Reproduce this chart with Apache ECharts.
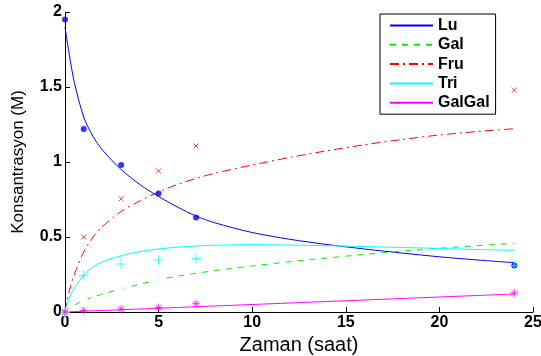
<!DOCTYPE html>
<html>
<head>
<meta charset="utf-8">
<script src="https://cdn.jsdelivr.net/npm/echarts@6/dist/echarts.min.js"></script>
<style>
html,body{margin:0;padding:0;background:#fff;}
#chart{width:541px;height:356px;}
</style>
</head>
<body>
<div id="chart"></div>
<script>
// olculen noktalar
var tObs = [0, 1, 3, 5, 7, 24];
var luObs = [1.95, 1.22, 0.98, 0.79, 0.63, 0.31];
var galObs = [0, 0.08, 0.145, 0.225, 0.305, 0.54];
var fruObs = [0, 0.50, 0.755, 0.94, 1.107, 1.48];
var triObs = [0, 0.242, 0.32, 0.347, 0.358, 0.31];
var galgalObs = [0, 0.01, 0.02, 0.03, 0.055, 0.127];

// model egrileri
var tFit = [0, 0.25, 0.5, 1, 1.5, 2, 3, 4, 5, 6, 7, 8, 10, 12, 14, 16, 18, 20, 22, 24];
var luFit = [1.90, 1.70, 1.53, 1.30, 1.17, 1.08, 0.95, 0.85, 0.77, 0.70, 0.64, 0.595, 0.53, 0.485, 0.45, 0.42, 0.393, 0.368, 0.347, 0.329];
var galFit = [0, 0.025, 0.045, 0.078, 0.10, 0.12, 0.153, 0.185, 0.215, 0.238, 0.258, 0.276, 0.307, 0.335, 0.36, 0.384, 0.405, 0.425, 0.442, 0.458];
var fruFit = [0, 0.15, 0.25, 0.40, 0.50, 0.57, 0.67, 0.74, 0.80, 0.85, 0.89, 0.925, 0.98, 1.03, 1.075, 1.115, 1.15, 1.18, 1.203, 1.222];
var triFit = [0, 0.10, 0.16, 0.245, 0.30, 0.335, 0.375, 0.403, 0.42, 0.432, 0.44, 0.445, 0.449, 0.446, 0.442, 0.436, 0.43, 0.424, 0.417, 0.411];
var galgalFit = [0, 0.001, 0.003, 0.005, 0.008, 0.01, 0.015, 0.02, 0.025, 0.03, 0.035, 0.04, 0.05, 0.06, 0.07, 0.08, 0.09, 0.10, 0.11, 0.12];

var seriesNames = ['Lu', 'Gal', 'Fru', 'Tri', 'GalGal'];

const pair = (xs, ys) => xs.map((x, i) => [x, ys[i]]);

const fitLine = (name, data, color, type) => ({
    name: name,
    type: 'line',
    data: pair(tFit, data),
    symbol: 'none',
    smooth: 0.3,
    lineStyle: {color: color, width: 1, type: type},
    itemStyle: {color: color},
    z: 2
});

const obsPoints = (data, color, symbol, size, hollow) => ({
    type: 'scatter',
    data: pair(tObs, data),
    symbol: symbol,
    symbolSize: size,
    clip: false,
    itemStyle: hollow
        ? {color: 'transparent', borderColor: color, borderWidth: 1}
        : {color: color},
    z: 3
});

var crossPath = 'path://M0,0L10,10M10,0L0,10';
var plusPath = 'path://M5,0L5,10M0,5L10,5';
var starPath = 'path://M5,0L5,10M0,5L10,5M1.5,1.5L8.5,8.5M8.5,1.5L1.5,8.5';

var labelFont = {fontFamily: 'Liberation Sans', fontWeight: 'bold', fontSize: 16, color: '#000'};

var chart = echarts.init(document.getElementById('chart'));
chart.setOption({
    animation: false,
    backgroundColor: '#fff',
    grid: {left: 65, right: 8, top: 12, bottom: 44, containLabel: false, outerBoundsMode: 'none'},
    legend: {
        data: seriesNames,
        orient: 'vertical',
        left: 380,
        top: 14,
        padding: [2, 6, 2, 9],
        itemWidth: 43,
        itemHeight: 12,
        itemGap: 0.3,
        borderColor: '#000',
        borderWidth: 1,
        borderRadius: 0,
        backgroundColor: '#fff',
        itemStyle: {opacity: 0},
        textStyle: {fontFamily: 'Liberation Sans', fontWeight: 'bold', fontSize: 16, color: '#000', lineHeight: 19}
    },
    xAxis: {
        type: 'value',
        min: 0, max: 25, interval: 5,
        name: 'Zaman (saat)',
        nameLocation: 'middle',
        nameGap: 18,
        nameTextStyle: {fontFamily: 'Liberation Sans', fontSize: 20, color: '#000'},
        axisLine: {lineStyle: {color: '#000', width: 1}},
        axisTick: {inside: true, length: 5, lineStyle: {color: '#000'}},
        axisLabel: Object.assign({margin: 3}, labelFont),
        splitLine: {show: false}
    },
    yAxis: {
        type: 'value',
        min: 0, max: 2, interval: 0.5,
        name: 'Konsantrasyon (M)',
        nameLocation: 'middle',
        nameGap: 38,
        nameTextStyle: {fontFamily: 'Liberation Sans', fontSize: 17, color: '#000'},
        axisLine: {show: true, lineStyle: {color: '#000', width: 1}},
        axisTick: {show: true, inside: true, length: 5, lineStyle: {color: '#000'}},
        axisLabel: Object.assign({margin: 3}, labelFont),
        splitLine: {show: false}
    },
    series: [
        fitLine('Lu', luFit, '#0000ff', 'solid'),
        fitLine('Gal', galFit, '#00ee00', [6, 6]),
        fitLine('Fru', fruFit, '#ff0000', [9, 4, 2, 4]),
        fitLine('Tri', triFit, '#00ffff', 'solid'),
        fitLine('GalGal', galgalFit, '#ff00ff', 'solid'),
        obsPoints(luObs, '#0000ff', 'circle', 6, false),
        obsPoints(galObs, '#00ee00', 'emptyCircle', 9, true),
        obsPoints(fruObs, '#ff0000', crossPath, 5, true),
        obsPoints(triObs, '#00ffff', plusPath, 10, true),
        obsPoints(galgalObs, '#ff00ff', starPath, 8, true)
    ]
});
</script>
</body>
</html>
